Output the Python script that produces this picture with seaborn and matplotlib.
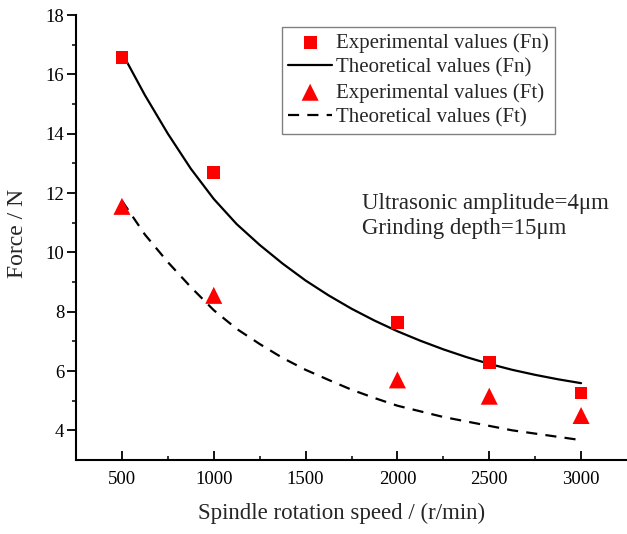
import numpy as np
import pandas as pd
import matplotlib
matplotlib.use("Agg")
import matplotlib.pyplot as plt
import seaborn as sns

# ---- data ----
speed_exp = [500, 1000, 2000, 2500, 3000]
fn_exp = [16.58, 12.69, 7.63, 6.28, 5.26]
ft_exp = [11.55, 8.55, 5.70, 5.15, 4.50]

speed_theo = [500, 625, 750, 875, 1000, 1125, 1250, 1375, 1500, 1625, 1750,
              1875, 2000, 2125, 2250, 2375, 2500, 2625, 2750, 2875, 3000]
fn_theo = [16.73, 15.30, 14.00, 12.82, 11.80, 10.95, 10.25, 9.62, 9.05, 8.55, 8.10,
           7.70, 7.34, 7.02, 6.73, 6.47, 6.24, 6.04, 5.87, 5.72, 5.59]
ft_theo = [11.74, 10.60, 9.67, 8.83, 8.05, 7.42, 6.91, 6.44, 6.04, 5.70, 5.37,
           5.09, 4.83, 4.64, 4.45, 4.30, 4.15, 4.00, 3.89, 3.78, 3.67]

x_ticks = [500, 1000, 1500, 2000, 2500, 3000]
y_ticks = [4, 6, 8, 10, 12, 14, 16, 18]

labels = ["Experimental values (Fn)", "Theoretical values (Fn)",
          "Experimental values (Ft)", "Theoretical values (Ft)"]

sns.set_style("ticks")
plt.rcParams['font.family'] = ['Liberation Serif', 'DejaVu Serif']

W, H = 627, 534
fig = plt.figure(figsize=(W / 100, H / 100), dpi=100)
ax = fig.add_axes([76 / W, 1 - 460 / H, (W - 76) / W, (460 - 15) / H])

df_exp = pd.DataFrame({"speed": speed_exp, "Fn": fn_exp, "Ft": ft_exp})
df_theo = pd.DataFrame({"speed": speed_theo, "Fn": fn_theo, "Ft": ft_theo})

sns.scatterplot(data=df_exp, x="speed", y="Fn", marker="s", s=85, color="#ff0000",
                edgecolor="none", linewidth=0, ax=ax, label=labels[0], zorder=3)
sns.lineplot(data=df_theo, x="speed", y="Fn", color="black", linewidth=1.6,
             ax=ax, label=labels[1], zorder=2)
sns.scatterplot(data=df_exp, x="speed", y="Ft", marker="^", s=150, color="#ff0000",
                edgecolor="none", linewidth=0, ax=ax, label=labels[2], zorder=3)
sns.lineplot(data=df_theo, x="speed", y="Ft", color="black", linewidth=1.6,
             ax=ax, label=labels[3], zorder=2)
ax.lines[-1].set_dashes([5, 3.7])

ax.set_xlim(250, 3250)
ax.set_ylim(3, 18)
ax.set_xticks(x_ticks)
ax.set_yticks(y_ticks)
ax.set_xticks([750, 1250, 1750, 2250, 2750], minor=True)
ax.set_yticks([5, 7, 9, 11, 13, 15, 17], minor=True)

sns.despine(ax=ax)
for s in ["left", "bottom"]:
    ax.spines[s].set_linewidth(1.5)
    ax.spines[s].set_color("black")

ax.tick_params(axis="x", which="major", direction="in", length=6.5, width=1.3,
               pad=8, labelsize=13.5, colors="black")
ax.tick_params(axis="x", which="minor", direction="in", length=3.2, width=1.3)
ax.tick_params(axis="y", which="major", direction="out", length=6.5, width=1.3,
               pad=2, labelsize=13.5, colors="black")
ax.tick_params(axis="y", which="minor", direction="out", length=3.2, width=1.3)

ax.set_xlabel("Spindle rotation speed / (r/min)", fontsize=16.5)
ax.set_ylabel("Force / N", fontsize=17)
ax.xaxis.set_label_coords((341.5 - 76) / (W - 76), -(503 - 460) / 445)
ax.yaxis.set_label_coords((28 - 76) / (W - 76), (460 - 233) / 445)

handles, lbls = ax.get_legend_handles_labels()
order = [lbls.index(l) for l in labels]
leg = ax.legend([handles[i] for i in order], [lbls[i] for i in order],
                loc="upper left", bbox_to_anchor=(282 / W, 1 - 27 / H),
                bbox_transform=fig.transFigure, borderaxespad=0,
                fontsize=15, frameon=True, fancybox=False, edgecolor="#808080",
                framealpha=1, labelspacing=0.25, handlelength=2.1,
                handletextpad=0.2, borderpad=0.3)
leg.get_frame().set_linewidth(1.0)

fig.text(362 / W, 1 - 193 / H, "Ultrasonic amplitude=4μm\nGrinding depth=15μm",
         fontsize=16.5, ha="left", va="top", linespacing=1.25)

fig.savefig("out.png", dpi=100)
